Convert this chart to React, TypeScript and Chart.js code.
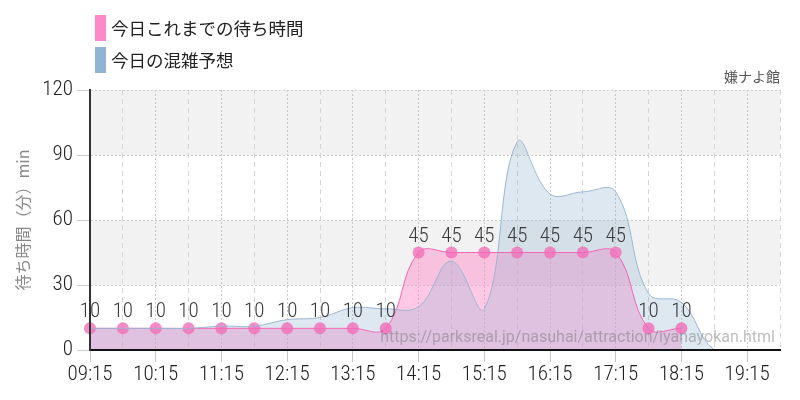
import React, { useEffect, useRef } from 'react';
import { Chart, registerables } from 'chart.js';

Chart.register(...registerables);

const times = ['09:15', '09:45', '10:15', '10:45', '11:15', '11:45', '12:15', '12:45', '13:15', '13:45', '14:15', '14:45', '15:15', '15:45', '16:15', '16:45', '17:15', '17:45', '18:15', '18:45', '19:15', '19:45'];
const actualWait = [10, 10, 10, 10, 10, 10, 10, 10, 10, 10, 45, 45, 45, 45, 45, 45, 45, 10, 10, null, null, null];
const forecastWait = [10, 10, 10, 10, 11, 11, 14, 15, 19.5, 19, 20, 41, 19, 96, 72, 73, 73, 26, 22, 0, 0, 0];
const yTicks = [0, 30, 60, 90, 120];
const shadedBands = [[30, 60], [90, 120]];
const legendLabels = ['今日これまでの待ち時間', '今日の混雑予想'];
const legendColors = ['#FF88C8', '#91B4D2'];
const attractionName = '嫌ナよ館';
const yAxisTitle = '待ち時間（分）min';
const sourceUrl = 'https://parksreal.jp/nasuhai/attraction/iyanayokan.html';

const COND = "'Roboto Condensed', 'Liberation Sans Narrow', 'DejaVu Sans Condensed', sans-serif";
const CJK = "'Noto Sans CJK JP', 'Noto Sans', sans-serif";

const bandsPlugin = {
  id: 'bands',
  beforeDraw(chart: any) {
    const { ctx, chartArea, scales } = chart;
    const y = scales.y;
    ctx.save();
    ctx.fillStyle = '#f2f2f2';
    shadedBands.forEach(([a, b]) => {
      const top = y.getPixelForValue(b);
      const bot = y.getPixelForValue(a);
      ctx.fillRect(chartArea.left, top, chartArea.right - chartArea.left, bot - top);
    });
    ctx.restore();
  },
};

const pointLabelsPlugin = {
  id: 'pointLabels',
  afterDatasetsDraw(chart: any) {
    const meta = chart.getDatasetMeta(0);
    const data = chart.data.datasets[0].data;
    const ctx = chart.ctx;
    ctx.save();
    ctx.font = `300 21px ${COND}`;
    ctx.fillStyle = '#3a3a3a';
    ctx.textAlign = 'center';
    ctx.textBaseline = 'alphabetic';
    meta.data.forEach((pt: any, i: number) => {
      const v = data[i];
      if (v == null) return;
      ctx.fillText(String(v), pt.x, pt.y - 11);
    });
    ctx.restore();
  },
};

const watermarkPlugin = {
  id: 'watermark',
  afterDraw(chart: any) {
    const { ctx, chartArea } = chart;
    ctx.save();
    ctx.font = `16px Roboto, 'Noto Sans', sans-serif`;
    ctx.fillStyle = 'rgba(110,110,110,0.45)';
    ctx.textAlign = 'right';
    ctx.textBaseline = 'alphabetic';
    ctx.fillText(sourceUrl, chartArea.right - 5, chartArea.bottom - 8);
    ctx.restore();
  },
};

export default function App() {
  const ref = useRef<HTMLCanvasElement | null>(null);

  useEffect(() => {
    const canvas = ref.current;
    if (!canvas) return;
    const chart = new Chart(canvas, {
      type: 'line',
      data: {
        labels: times,
        datasets: [
          {
            label: legendLabels[0],
            data: actualWait,
            order: 1,
            borderColor: '#F564B4',
            borderWidth: 1,
            backgroundColor: 'rgba(255,136,200,0.45)',
            fill: 'origin',
            tension: 0.4,
            pointRadius: 6,
            pointBorderWidth: 0,
            pointBackgroundColor: 'rgba(242,110,185,0.8)',
            pointHoverRadius: 6,
            spanGaps: false,
          },
          {
            label: legendLabels[1],
            data: forecastWait,
            order: 0,
            borderColor: '#9BB7D4',
            borderWidth: 1,
            backgroundColor: 'rgba(145,180,210,0.3)',
            fill: 'origin',
            tension: 0.4,
            pointRadius: 0,
            pointHoverRadius: 0,
            clip: 4,
          },
        ],
      } as any,
      options: {
        responsive: false,
        animation: false,
        events: [],
        layout: { padding: { top: 90, right: 20, left: 0, bottom: 0 } },
        plugins: {
          legend: { display: false },
          title: { display: false },
          tooltip: { enabled: false },
          filler: { drawTime: 'beforeDatasetsDraw' },
        },
        scales: {
          x: {
            offset: false,
            afterFit(scale: any) {
              scale.height = 50;
            },
            ticks: {
              autoSkip: false,
              maxRotation: 0,
              padding: 0,
              color: '#222',
              font: { family: COND, size: 21, weight: '300' },
              callback: (_v: any, i: number) => (i % 2 === 0 ? times[i] : ''),
            },
            grid: {
              color: (c: any) => (c.index % 2 === 0 ? '#c8c8c8' : '#d6d6d6'),
              tickColor: (c: any) => (c.index % 2 === 0 ? '#c8c8c8' : 'rgba(0,0,0,0)'),
              tickLength: 12,
              lineWidth: 1,
            },
            border: {
              color: '#111',
              width: 2,
              z: 1,
              dash: (c: any) => (c.index % 2 === 0 ? [2, 2] : [5, 4]),
            },
          },
          y: {
            min: 0,
            max: 120,
            afterFit(scale: any) {
              scale.width = 90;
            },
            afterBuildTicks(scale: any) {
              scale.ticks = yTicks.map((v) => ({ value: v }));
            },
            ticks: {
              padding: 4,
              color: '#222',
              font: { family: COND, size: 21, weight: '300' },
            },
            grid: {
              color: '#cccccc',
              tickColor: '#cccccc',
              tickLength: 13,
              lineWidth: 1,
            },
            border: {
              color: '#333',
              width: 2,
              z: 1,
              dash: [2, 2],
            },
            title: {
              display: true,
              text: yAxisTitle,
              color: '#888',
              font: { family: CJK, size: 16 },
              padding: { top: 13, bottom: 0 },
            },
          },
        },
      } as any,
      plugins: [bandsPlugin, pointLabelsPlugin, watermarkPlugin],
    });
    return () => chart.destroy();
  }, []);

  return (
    <div style={{ position: 'fixed', left: 0, top: 0, width: 800, height: 400, background: '#fff', overflow: 'hidden' }}>
      <canvas ref={ref} width={800} height={400} style={{ position: 'absolute', left: 0, top: 0, width: 800, height: 400 }} />
      {legendLabels.map((lab, i) => (
        <div
          key={lab}
          style={{
            position: 'absolute',
            left: 95,
            top: 15 + i * 32,
            height: 26,
            display: 'flex',
            alignItems: 'center',
            fontFamily: CJK,
            fontSize: 17.5,
            color: '#222',
            whiteSpace: 'nowrap',
          }}
        >
          <span style={{ display: 'inline-block', width: 11, height: 26, background: legendColors[i], marginRight: 5 }} />
          <span style={{ lineHeight: '26px' }}>{lab}</span>
        </div>
      ))}
      <div
        style={{
          position: 'absolute',
          right: 20,
          top: 67,
          lineHeight: '18px',
          fontFamily: CJK,
          fontSize: 14,
          color: '#555',
          whiteSpace: 'nowrap',
        }}
      >
        {attractionName}
      </div>
    </div>
  );
}
